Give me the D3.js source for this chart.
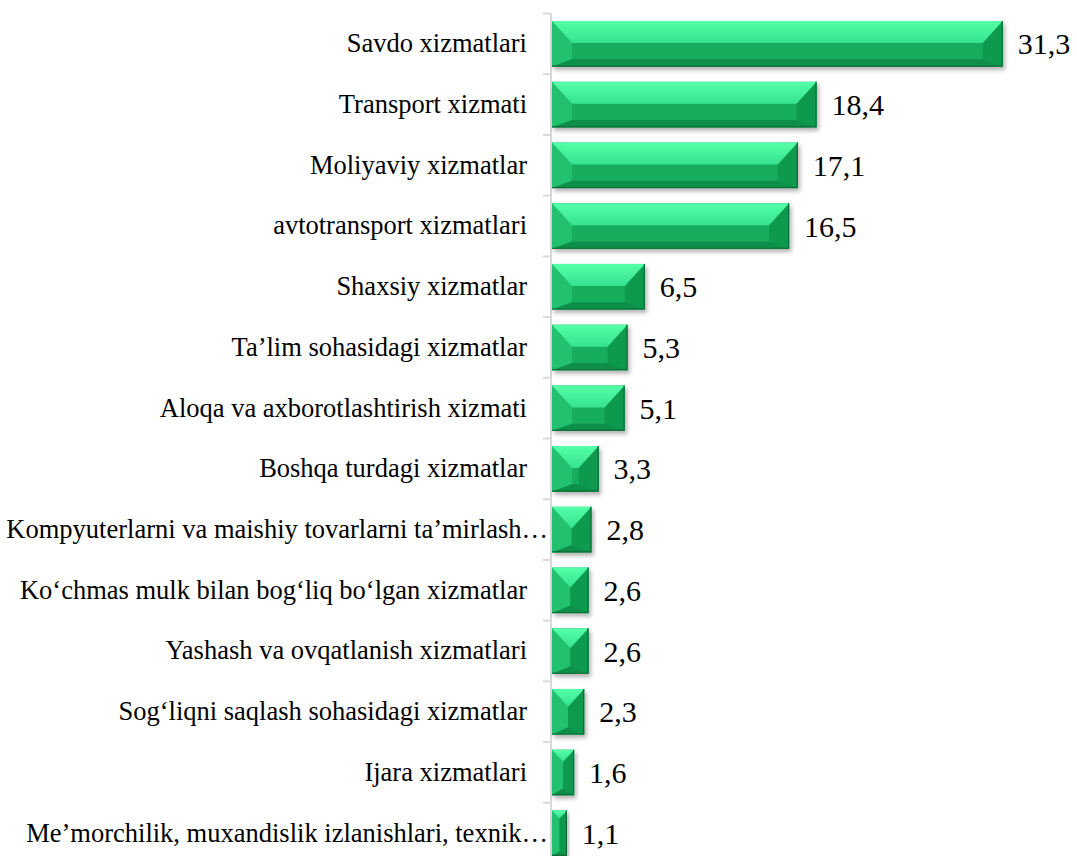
<!DOCTYPE html>
<html>
<head>
<meta charset="utf-8">
<script src="https://cdn.jsdelivr.net/npm/d3@7"></script>
<style>
  html, body { margin: 0; padding: 0; background: #fff; }
  svg { display: block; }
  .serif { font-family: 'Liberation Serif', 'Tinos', 'Times New Roman', 'DejaVu Serif', serif; }
</style>
</head>
<body>
<div id="chart"></div>
<script>
// categories top to bottom, share values in %
const categories = [
    "Savdo xizmatlari",
    "Transport xizmati",
    "Moliyaviy xizmatlar",
    "avtotransport xizmatlari",
    "Shaxsiy xizmatlar",
    "Ta’lim sohasidagi xizmatlar",
    "Aloqa va axborotlashtirish xizmati",
    "Boshqa turdagi xizmatlar",
    "Kompyuterlarni va maishiy tovarlarni ta’mirlash…",
    "Ko‘chmas mulk bilan bog‘liq bo‘lgan xizmatlar",
    "Yashash va ovqatlanish xizmatlari",
    "Sog‘liqni saqlash sohasidagi xizmatlar",
    "Ijara xizmatlari",
    "Me’morchilik, muxandislik izlanishlari, texnik…"
];
const values = [31.3, 18.4, 17.1, 16.5, 6.5, 5.3, 5.1, 3.3, 2.8, 2.6, 2.6, 2.3, 1.6, 1.1];

const width = 1077;
const height = 856;
const axisX = 551;

const svg = d3.select('#chart')
    .append('svg')
    .attr('width', width)
    .attr('height', height);

const defs = svg.append('defs');
defs.append('filter')
    .attr('id', 'shadow')
    .attr('x', '-20%').attr('y', '-20%')
    .attr('width', '140%').attr('height', '150%')
    .append('feDropShadow')
    .attr('dx', 2).attr('dy', 3)
    .attr('stdDeviation', 2)
    .attr('flood-color', '#000')
    .attr('flood-opacity', 0.3);

const topGrad = defs.append('linearGradient')
    .attr('id', 'topFacet')
    .attr('x1', 0).attr('y1', 0).attr('x2', 0).attr('y2', 1);
topGrad.append('stop').attr('offset', '0%').attr('stop-color', '#56ffa9');
topGrad.append('stop').attr('offset', '100%').attr('stop-color', '#36e290');

// scales
const xScale = d3.scaleLinear()
    .domain([0, 35])
    .range([axisX, axisX + 35 * 14.43]);

const yScale = d3.scaleBand()
    .domain(categories)
    .range([13.5, 863.5])
    .paddingInner(0.25)
    .paddingOuter(0.125);

// category labels through the axis generator
const yAxis = svg.append('g')
    .attr('transform', 'translate(' + axisX + ',0)')
    .call(d3.axisLeft(yScale).tickSize(0).tickPadding(24));
yAxis.select('.domain').remove();
yAxis.attr('font-family', null).attr('font-size', null);
yAxis.selectAll('text')
    .attr('class', 'serif')
    .style('font-size', '26.5px')
    .attr('fill', '#000')
    // truncated labels run up to the axis line
    .attr('x', d => d.endsWith('…') ? -3 : -24);

// axis line and boundary ticks
const step = yScale.step();
const firstEdge = yScale(categories[0]) - step * yScale.paddingInner() / 2;
const axisG = svg.append('g');
axisG.append('line')
    .attr('x1', axisX).attr('x2', axisX)
    .attr('y1', firstEdge).attr('y2', firstEdge + step * categories.length)
    .attr('stroke', '#d9d9d9')
    .attr('stroke-width', 2);
axisG.selectAll('.tick-mark')
    .data(d3.range(categories.length + 1))
    .join('line')
    .attr('class', 'tick-mark')
    .attr('x1', axisX - 8).attr('x2', axisX)
    .attr('y1', i => firstEdge + i * step)
    .attr('y2', i => firstEdge + i * step)
    .attr('stroke', '#d9d9d9')
    .attr('stroke-width', 2);

// bevelled bars
const pts = arr => arr.map(p => p.join(',')).join(' ');
const bars = svg.append('g')
    .selectAll('g.bar')
    .data(categories.map((c, i) => ({ cat: c, value: values[i] })))
    .join('g')
    .attr('class', 'bar')
    .attr('filter', 'url(#shadow)');

bars.each(function(d) {
    const g = d3.select(this);
    const x0 = xScale(0) + 1;
    const x1 = xScale(d.value);
    const y0 = yScale(d.cat);
    const y1 = y0 + yScale.bandwidth();
    const w = x1 - x0;
    const h = y1 - y0;
    const bx = Math.min(20, w / 2);
    const bt = Math.min(h * 0.5, bx * 1.1);
    const bb = Math.min(h * 0.16, bx * 0.6);
    const ix0 = x0 + bx, ix1 = x1 - bx, iy0 = y0 + bt, iy1 = y1 - bb;

    g.append('rect')
        .attr('x', x0).attr('y', y0)
        .attr('width', w).attr('height', h)
        .attr('fill', '#16ad5d');
    g.append('polygon')
        .attr('points', pts([[x0, y0], [ix0, iy0], [ix0, iy1], [x0, y1]]))
        .attr('fill', '#22c170');
    g.append('polygon')
        .attr('points', pts([[x1, y0], [ix1, iy0], [ix1, iy1], [x1, y1]]))
        .attr('fill', '#109a4f');
    g.append('polygon')
        .attr('points', pts([[x0, y1], [ix0, iy1], [ix1, iy1], [x1, y1]]))
        .attr('fill', '#0f8f48');
    g.append('polygon')
        .attr('points', pts([[x0, y0], [x1, y0], [ix1, iy0], [ix0, iy0]]))
        .attr('fill', 'url(#topFacet)');
    // dark rim on right and bottom
    g.append('polyline')
        .attr('points', pts([[x1 - 0.5, y0], [x1 - 0.5, y1 - 0.5], [x0, y1 - 0.5]]))
        .attr('fill', 'none')
        .attr('stroke', '#0b6e37')
        .attr('stroke-width', 1.2);
});

// value labels
svg.append('g')
    .selectAll('text')
    .data(categories.map((c, i) => ({ cat: c, value: values[i] })))
    .join('text')
    .attr('class', 'serif')
    .attr('x', d => xScale(d.value) + 15)
    .attr('y', d => yScale(d.cat) + yScale.bandwidth() / 2)
    .attr('dy', '0.35em')
    .style('font-size', '30px')
    .attr('fill', '#000')
    .text(d => d.value.toFixed(1).replace('.', ','));
</script>
</body>
</html>
